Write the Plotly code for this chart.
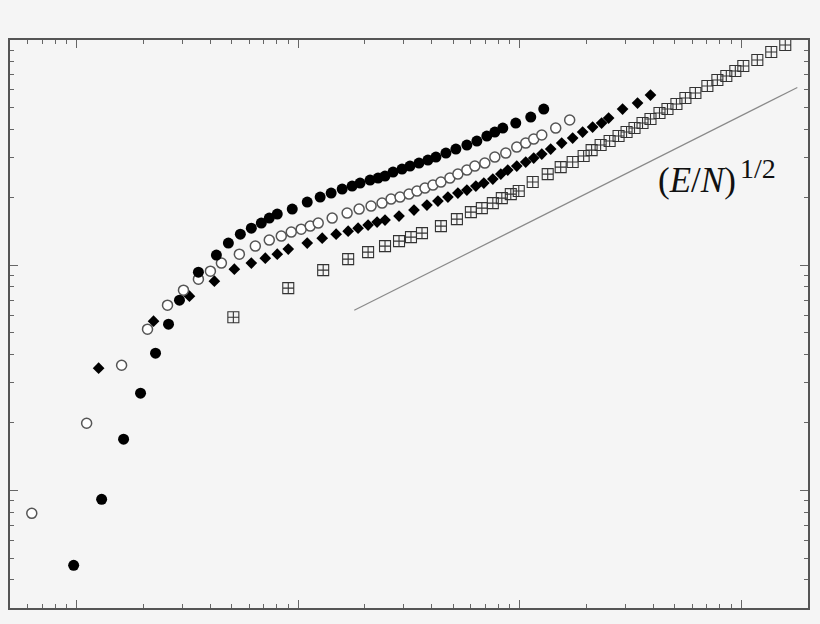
import plotly.graph_objects as go

# ---- data ----
filled_circle_x = [0.969, 1.296, 1.628, 1.942, 2.269, 2.597, 2.911, 3.544, 4.272, 4.838,
                   5.479, 6.142, 6.813, 7.401, 8.042, 9.397, 10.98, 12.56, 14.08, 15.79,
                   17.51, 19.02, 21.10, 22.93, 24.65, 26.79, 29.41, 31.95, 35.08, 38.50,
                   41.84, 46.42, 51.48, 57.71, 64.02, 71.02, 77.16, 83.83, 95.94, 112.1, 128.3]
filled_circle_y = [0.464, 0.912, 1.686, 2.698, 4.063, 5.468, 6.990, 9.310, 11.08, 12.53,
                   13.73, 14.60, 15.37, 16.18, 16.86, 17.74, 19.05, 20.06, 20.89, 21.77,
                   22.45, 23.15, 23.87, 24.36, 24.87, 25.90, 26.71, 27.54, 28.40, 29.29,
                   30.20, 31.46, 32.78, 34.15, 35.58, 37.45, 39.01, 40.63, 42.76, 45.48, 49.35]

open_circle_x = [0.627, 1.109, 1.595, 2.088, 2.570, 3.034, 3.544, 4.014, 4.500, 5.423,
                 6.402, 7.401, 8.384, 9.300, 10.31, 11.33, 12.31, 14.23, 16.62, 18.83,
                 21.32, 23.90, 26.24, 28.81, 31.62, 34.36, 37.34, 40.56, 44.07, 48.38,
                 52.56, 57.71, 62.70, 69.55, 77.16, 86.48, 96.94, 106.4, 115.6, 125.7,
                 145.3, 168.0]
open_circle_y = [0.790, 1.985, 3.594, 5.194, 6.642, 7.743, 8.665, 9.404, 10.21, 11.19,
                 12.15, 12.92, 13.46, 14.02, 14.45, 14.91, 15.37, 16.18, 17.03, 17.74,
                 18.29, 18.86, 19.65, 20.06, 20.68, 21.33, 21.99, 22.68, 23.39, 24.36,
                 25.37, 26.44, 27.54, 28.40, 30.20, 31.46, 33.45, 34.85, 36.31, 37.83,
                 40.63, 44.11]

diamond_x = [1.256, 2.223, 3.228, 4.183, 5.148, 6.142, 7.102, 8.042, 9.016, 10.98,
             12.83, 14.83, 16.80, 18.63, 20.67, 22.70, 24.65, 28.51, 33.31, 38.11,
             42.72, 47.39, 52.56, 57.71, 63.36, 68.83, 75.57, 82.13, 88.28, 96.94,
             106.4, 115.6, 125.7, 137.9, 154.6, 173.3, 192.2, 213.2, 234.1, 251.8,
             291.1, 340.1, 389.1]
diamond_y = [3.485, 5.638, 7.283, 8.489, 9.598, 10.21, 10.74, 11.19, 11.78, 12.53,
             13.18, 13.73, 14.16, 14.60, 15.06, 15.53, 15.85, 16.51, 17.56, 18.48,
             19.25, 20.06, 20.89, 21.54, 22.45, 23.15, 24.11, 25.37, 26.44, 27.54,
             28.70, 29.89, 31.13, 32.78, 34.85, 36.68, 39.01, 41.05, 42.76, 45.01,
             49.35, 52.48, 56.95]

square_x = [5.095, 9.016, 12.96, 16.80, 20.67, 24.65, 28.51, 32.28, 36.19, 44.07,
            52.03, 60.17, 67.43, 75.57, 82.98, 91.10, 98.97, 114.4, 133.7, 153.0,
            173.3, 194.2, 211.0, 231.7, 254.4, 279.2, 303.4, 329.6, 358.2, 389.1,
            427.2, 464.2, 509.5, 559.4, 620.7, 702.8, 779.8, 855.7, 939.6, 1021,
            1181, 1365, 1579]
square_y = [5.873, 7.903, 9.501, 10.63, 11.42, 12.15, 12.79, 13.32, 13.87, 14.91,
            16.01, 17.20, 17.92, 18.86, 19.85, 20.68, 21.33, 23.39, 25.37, 27.26,
            28.70, 30.51, 32.44, 34.15, 35.58, 37.45, 39.01, 40.63, 42.76, 44.56,
            47.38, 49.35, 51.95, 55.24, 58.14, 62.47, 66.40, 69.18, 72.81, 76.64,
            81.51, 88.44, 95.02]

guide_x = [17.9, 1790]
guide_y = [6.3, 61.5]
guide_label = "(<i>E</i>/<i>N</i>)"
guide_power = "1/2"

x_ticks = [1, 10, 100, 1000]
y_ticks = [1, 10, 100]

# ---- figure ----
fig = go.Figure()

fig.add_trace(go.Scatter(
    x=guide_x, y=guide_y, mode="lines",
    line=dict(color="#8a8a8a", width=1.2), hoverinfo="skip"))

fig.add_trace(go.Scatter(
    x=square_x, y=square_y, mode="markers",
    marker=dict(symbol="square-cross-open", size=11, color="#333333",
                line=dict(width=1.1, color="#333333"))))

fig.add_trace(go.Scatter(
    x=diamond_x, y=diamond_y, mode="markers",
    marker=dict(symbol="diamond", size=9, color="#000000", line=dict(width=0))))

fig.add_trace(go.Scatter(
    x=open_circle_x, y=open_circle_y, mode="markers",
    marker=dict(symbol="circle", size=10, color="#ffffff",
                line=dict(width=1.5, color="#555555"))))

fig.add_trace(go.Scatter(
    x=filled_circle_x, y=filled_circle_y, mode="markers",
    marker=dict(symbol="circle", size=11, color="#000000", line=dict(width=0))))

axis_common = dict(
    type="log",
    showgrid=False, zeroline=False,
    showline=True, linecolor="#555555", linewidth=1.5,
    mirror="ticks",
    ticks="inside", ticklen=8, tickwidth=1.3, tickcolor="#666666",
    showticklabels=False,
    minor=dict(ticks="inside", ticklen=4, tickwidth=1, tickcolor="#666666",
               dtick="D1", showgrid=False),
)

serif = "Liberation Serif, Times New Roman, serif"

fig.update_layout(
    width=820, height=624,
    margin=dict(l=10, r=10, t=40, b=16),
    paper_bgcolor="#f5f5f5", plot_bgcolor="#f5f5f5",
    showlegend=False,
    xaxis=dict(axis_common, range=[-0.30103, 3.30103], tickvals=x_ticks),
    yaxis=dict(axis_common, range=[-0.52288, 2.0], tickvals=y_ticks),
    annotations=[
        dict(text=guide_label, xref="paper", yref="paper",
             x=0.809, y=0.7535, xanchor="left", yanchor="middle",
             showarrow=False,
             font=dict(family=serif, size=35, color="#111111")),
        dict(text=guide_power, xref="paper", yref="paper",
             x=0.912, y=0.773, xanchor="left", yanchor="middle",
             showarrow=False,
             font=dict(family=serif, size=28, color="#111111")),
    ],
)

fig.write_html(
    "out.html",
    config={"displayModeBar": False},
    post_script="document.body.style.margin='0';document.body.style.overflow='hidden';"
                "document.body.style.background='#f5f5f5';",
)
